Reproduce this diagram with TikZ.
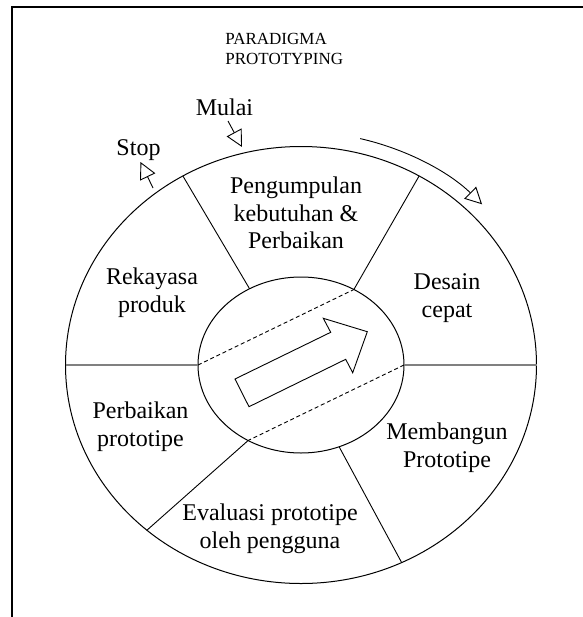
\documentclass[tikz,border=0pt]{standalone}
\usepackage{fontspec}
\setmainfont{Liberation Serif}
\usetikzlibrary{arrows.meta,shapes.geometric}

\begin{document}
\begin{tikzpicture}[
  x=0.5pt, y=-0.5pt,
  every node/.style={font=\fontsize{12}{13.8}\selectfont},
  ring/.style={draw, ellipse, inner sep=0pt, outer sep=0pt, line width=0.5pt},
  spoke/.style={line width=0.45pt},
  split/.style={draw=gray, line width=0.9pt},
  guide/.style={dash pattern=on 2pt off 1.4pt, line width=0.45pt},
  lbl/.style={align=center, inner sep=0pt},
  ptr/.style={-{Triangle[open,length=8.3pt,width=8.4pt]}, line width=0.45pt}
]
  \useasboundingbox (0,0) rectangle (583,617);
  % frame, cut at right and bottom
  \draw[line width=1pt] (12,617) -- (12,7) -- (583,7);

  % Wheel
  \node[ring, minimum width=235.5pt, minimum height=218.5pt] (outer) at (301,365) {};
  \node[ring, minimum width=103pt, minimum height=88pt] (inner) at (301,365) {};
  \draw[spoke] (outer.122) -- (inner.124);
  \draw[spoke] (outer.58) -- (inner.55);
  \draw[spoke] (outer.227) -- (inner.235);
  \draw[spoke] (outer.297) -- (inner.295);
  \draw[split] (outer.west) -- (inner.west);
  \draw[split] (inner.east) -- (outer.east);
  \draw[guide] (inner.west) -- (inner.55);
  \draw[guide] (inner.east) -- (inner.235);
  % block arrow in the hub
  \draw[fill=white, line width=0.45pt] (235,379) -- (330.7,332.3) -- (323.3,318.3)
    -- (367.3,331.7) -- (352.7,372.7) -- (345.7,359.3) -- (249,406.7) -- cycle;

  % Labels
  \node[lbl, anchor=west, font=\fontsize{8.5}{10}\selectfont, align=left] (title) at (225,49.3) {PARADIGMA\\PROTOTYPING};
  \node[lbl] (gather)   at (296,213)   {Pengumpulan\\kebutuhan \&\\Perbaikan};
  \node[lbl] (design)   at (447,298)   {Desain\\cepat};
  \node[lbl] (build)    at (447,448)   {Membangun\\Prototipe};
  \node[lbl] (review)   at (270,529)   {Evaluasi prototipe\\oleh pengguna};
  \node[lbl] (refine)   at (140.5,427) {Perbaikan\\prototipe};
  \node[lbl] (engineer) at (152,293)   {Rekayasa\\produk};
  \node[inner sep=0pt, anchor=base] (start) at (224.5,115) {Mulai};
  \node[inner sep=0pt, anchor=base] (stop)  at (138.5,155) {Stop};

  % Pointers
  \coordinate (startTail) at (228,121);
  \coordinate (startTip)  at (242,147);
  \coordinate (stopTail)  at (153,188);
  \coordinate (stopTip)   at (140.5,162);
  \coordinate (flowFrom)  at (360.2,138.6);
  \draw[ptr] (startTail) -- (startTip);
  \draw[ptr] (stopTail) -- (stopTip);
  \draw[ptr] (flowFrom) arc[start angle=-76.3, end angle=-43.6, x radius=250, y radius=233];
\end{tikzpicture}
\end{document}
